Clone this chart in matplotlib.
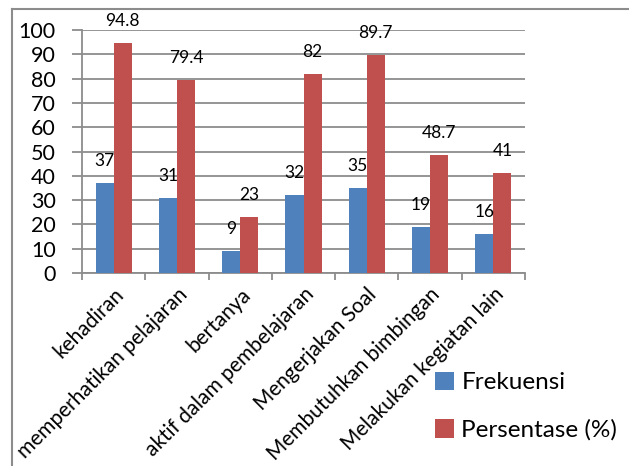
import matplotlib
matplotlib.use("Agg")
import matplotlib.pyplot as plt
import numpy as np
from matplotlib.lines import Line2D

categories = ["kehadiran", "memperhatikan pelajaran", "bertanya",
              "aktif dalam pembelajaran", "Mengerjakan Soal",
              "Membutuhkan bimbingan", "Melakukan kegiatan lain"]
frekuensi = [37, 31, 9, 32, 35, 19, 16]
persentase = [94.8, 79.4, 23, 82, 89.7, 48.7, 41]
series_names = ["Frekuensi", "Persentase (%)"]
yticks = [0, 10, 20, 30, 40, 50, 60, 70, 80, 90, 100]

BLUE = "#4F81BD"
RED = "#C0504D"
GRID = "#8C8C8C"

plt.rcParams["font.family"] = ["Lato", "DejaVu Sans"]

W, H = 629, 466
fig = plt.figure(figsize=(W / 100, H / 100), dpi=100)
ax = fig.add_axes([82 / W, 1 - 273 / H, (525 - 82) / W, (273 - 30) / H])

x = np.arange(len(categories))
bw = 0.285
b1 = ax.bar(x - bw / 2, frekuensi, bw, color=BLUE, label=series_names[0], zorder=3)
b2 = ax.bar(x + bw / 2, persentase, bw, color=RED, label=series_names[1], zorder=3)

for bars, vals in ((b1, frekuensi), (b2, persentase)):
    for rect, v in zip(bars, vals):
        ax.annotate(f"{v:g}", (rect.get_x() + rect.get_width() / 2, v),
                    xytext=(0, 10), textcoords="offset points",
                    ha="center", va="bottom", fontsize=12.5, color="black",
                    zorder=4, annotation_clip=False)

ax.set_xlim(-0.5, len(categories) - 0.5)
ax.set_ylim(0, 100)
ax.set_yticks(yticks)
ax.yaxis.grid(True, color=GRID, linewidth=1.3, zorder=0)
ax.tick_params(axis="y", length=7, width=1.3, color=GRID, labelsize=15.5, pad=12)

ax.set_xticks(np.arange(len(categories) + 1) - 0.5, minor=False)
ax.set_xticklabels([])
ax.tick_params(axis="x", which="major", length=5, width=1.3, color=GRID)
ax.set_xticks(x, minor=True)
ax.set_xticklabels(categories, minor=True, rotation=45, ha="right",
                   rotation_mode="anchor", fontsize=15)
ax.tick_params(axis="x", which="minor", length=0, pad=8)

for side in ("top", "right"):
    ax.spines[side].set_visible(False)
for side in ("left", "bottom"):
    ax.spines[side].set_color(GRID)
    ax.spines[side].set_linewidth(1.3)

# chart area outline
fig.add_artist(Line2D([12 / W, 12 / W], [0, 1 - 9 / H], transform=fig.transFigure,
                      color="#8C8C8C", linewidth=1.5))
fig.add_artist(Line2D([12 / W, 1], [1 - 9 / H, 1 - 9 / H], transform=fig.transFigure,
                      color="#8C8C8C", linewidth=1.5))

fig.legend(handles=[b1, b2], loc="upper left",
           bbox_to_anchor=(425 / W, 1 - 362 / H), frameon=False,
           fontsize=17.5, handlelength=0.8, handleheight=0.8,
           handletextpad=0.3, labelspacing=1.05, borderaxespad=0)

fig.savefig("out.png", dpi=100)
